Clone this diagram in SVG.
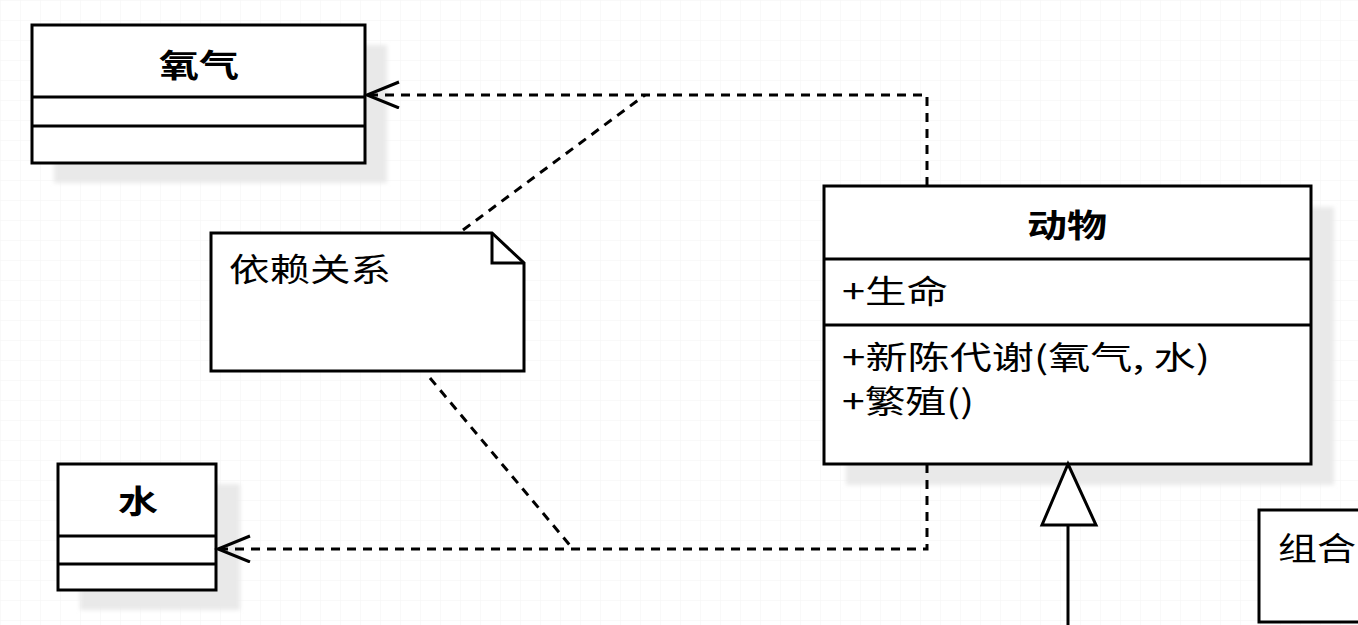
<svg xmlns="http://www.w3.org/2000/svg" width="1358" height="625" viewBox="0 0 1358 625">
<defs>
<pattern id="grid" width="20" height="20" patternUnits="userSpaceOnUse">
<path d="M20 0H0V20" fill="none" stroke="#f3f3f3" stroke-width="1"/>
</pattern>
<filter id="blur" x="-10%" y="-10%" width="120%" height="120%"><feGaussianBlur stdDeviation="2"/></filter>
<marker id="open" markerWidth="40" markerHeight="30" refX="33" refY="14" orient="auto" markerUnits="userSpaceOnUse">
<path d="M1 1L33 14L1 27" fill="none" stroke="#000" stroke-width="3"/>
</marker>
</defs>
<style>
.box{fill:#fff;stroke:#000;stroke-width:3}
.line{stroke:#000;stroke-width:3}
.shadow{fill:#e9e9e9;filter:url(#blur)}
.dash{fill:none;stroke:#000;stroke-width:3;stroke-dasharray:9 7}
.t{font-family:"Noto Sans CJK SC","Liberation Sans",sans-serif;font-size:32px;fill:#000}
.b{font-weight:bold}
</style>
<rect width="1358" height="625" fill="#fff"/>
<rect width="1358" height="625" fill="url(#grid)"/>

<g id="shadows">
<rect class="shadow" x="54" y="45" width="333" height="138"/>
<rect class="shadow" x="80" y="484" width="160" height="126"/>
<rect class="shadow" x="846" y="207" width="488" height="278"/>
</g>

<g id="oxygen">
<rect class="box" x="32" y="25" width="333" height="138"/>
<line class="line" x1="32" y1="97" x2="365" y2="97"/>
<line class="line" x1="32" y1="126" x2="365" y2="126"/>
<text class="t b" x="199" y="77" text-anchor="middle" textLength="80" lengthAdjust="spacingAndGlyphs">氧气</text>
</g>

<g id="water">
<rect class="box" x="58" y="464" width="158" height="126"/>
<line class="line" x1="58" y1="536" x2="216" y2="536"/>
<line class="line" x1="58" y1="564" x2="216" y2="564"/>
<text class="t b" x="138" y="513" text-anchor="middle" textLength="40" lengthAdjust="spacingAndGlyphs">水</text>
</g>

<g id="note">
<path class="box" d="M211 233H492L524 263V371H211Z"/>
<path d="M492 233V263H524" fill="none" stroke="#000" stroke-width="3"/>
<text class="t" x="229" y="281" textLength="162" lengthAdjust="spacingAndGlyphs">依赖关系</text>
</g>

<g id="animal">
<rect class="box" x="824" y="186" width="487" height="278"/>
<line class="line" x1="824" y1="259" x2="1311" y2="259"/>
<line class="line" x1="824" y1="325" x2="1311" y2="325"/>
<text class="t b" x="1067" y="237" text-anchor="middle" textLength="80" lengthAdjust="spacingAndGlyphs">动物</text>
<text class="t" x="842" y="303" textLength="106" lengthAdjust="spacingAndGlyphs">+生命</text>
<text class="t" x="842" y="369" textLength="368" lengthAdjust="spacingAndGlyphs">+新陈代谢(氧气, 水)</text>
<text class="t" x="842" y="413" textLength="132" lengthAdjust="spacingAndGlyphs">+繁殖()</text>
</g>

<g id="composition">
<rect class="box" x="1259" y="510" width="120" height="112"/>
<text class="t" x="1278" y="560" textLength="78" lengthAdjust="spacingAndGlyphs">组合</text>
</g>

<g id="connectors">
<path class="dash" d="M927 186V95H367" marker-end="url(#open)"/>
<path class="dash" d="M927 464V549H218" marker-end="url(#open)"/>
<path class="dash" d="M463 230L645 95"/>
<path class="dash" d="M430 378L573 549"/>
<line class="line" x1="1068" y1="525" x2="1068" y2="625"/>
<path d="M1068 464L1096 525H1042Z" fill="#fff" stroke="#000" stroke-width="3"/>
</g>
</svg>
